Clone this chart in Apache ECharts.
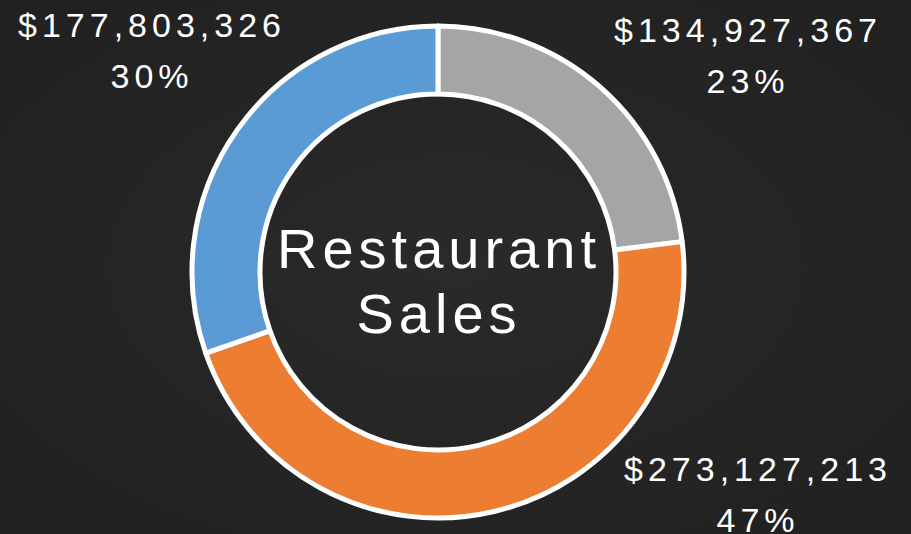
<!DOCTYPE html>
<html>
<head>
<meta charset="utf-8">
<script src="https://cdn.jsdelivr.net/npm/echarts@6/dist/echarts.min.js"></script>
<style>
  html, body { margin: 0; padding: 0; background: #242424; }
  #chart { width: 911px; height: 534px; letter-spacing: 5px; }
</style>
</head>
<body>
<div id="chart"></div>
<script>
// 数据
const categories = ['Gray', 'Orange', 'Blue']
const salesValues = [134927367, 273127213, 177803326]
const sliceColors = ['#a5a5a5', '#ed7d31', '#5b9bd5']
const centerTitle = 'Restaurant\nSales'

// 标签位置（每个扇区）
const labelPos = [
  { x: 748, y: 55 },
  { x: 758, y: 494 },
  { x: 152, y: 50 }
]

const chart = echarts.init(document.getElementById('chart'), null, { renderer: 'svg' })

const optionData = {
  backgroundColor: {
    type: 'radial',
    x: 0.5, y: 0.5, r: 0.8,
    colorStops: [
      { offset: 0, color: '#2a2a2a' },
      { offset: 1, color: '#1f1f1f' }
    ]
  },
  animation: false,
  graphic: [{
    type: 'text',
    x: 439,
    y: 281,
    style: {
      text: centerTitle,
      fill: '#ffffff',
      font: '56px "Liberation Sans", Arial, sans-serif',
      lineHeight: 65,
      align: 'center',
      verticalAlign: 'middle'
    }
  }],
  series: [{
    type: 'pie',
    center: [438, 272],
    radius: [178, 246],
    startAngle: 90,
    clockwise: true,
    itemStyle: {
      borderColor: '#ffffff',
      borderWidth: 5
    },
    label: {
      show: true,
      color: '#ffffff',
      fontFamily: '"Liberation Sans", Arial, sans-serif',
      fontSize: 34,
      lineHeight: 51,
      align: 'center',
      overflow: 'none',
      width: 320,
      formatter: p => '$' + p.value.toLocaleString('en-US') + '\n' + Math.round(p.percent) + '%'
    },
    labelLine: { show: false },
    labelLayout: p => ({
      x: labelPos[p.dataIndex].x,
      y: labelPos[p.dataIndex].y,
      align: 'center',
      verticalAlign: 'middle'
    }),
    data: categories.map((name, i) => ({
      name: name,
      value: salesValues[i],
      itemStyle: { color: sliceColors[i] }
    }))
  }]
}

chart.setOption(optionData)
</script>
</body>
</html>
